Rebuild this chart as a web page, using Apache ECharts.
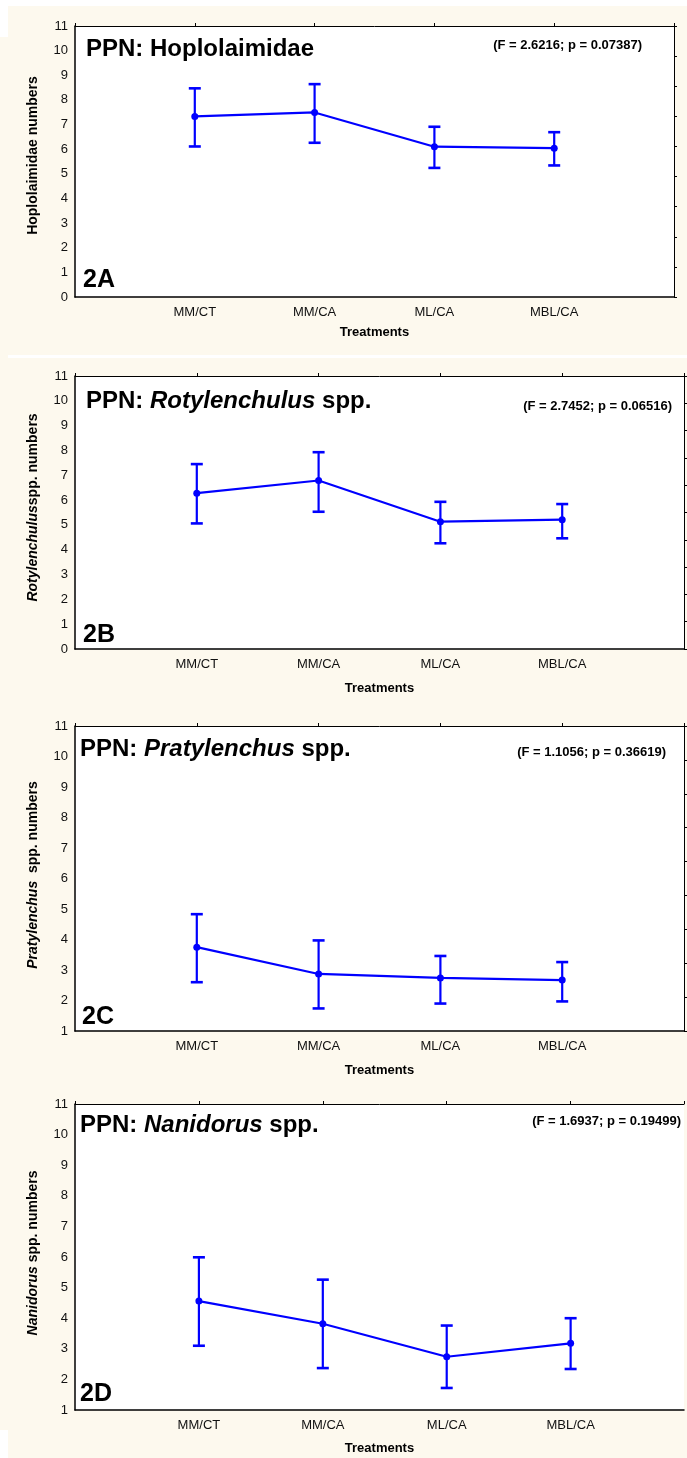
<!DOCTYPE html>
<html><head><meta charset="utf-8">
<script src="https://cdn.jsdelivr.net/npm/echarts@6/dist/echarts.min.js"></script>
<style>html,body{margin:0;padding:0;background:#FDF9EE;} #c{width:687px;height:1458px;}</style>
</head><body><div id="c"></div>
<script>
// ---- data ----
const categories = ['MM/CT', 'MM/CA', 'ML/CA', 'MBL/CA'];

const hoploMean  = [7.33, 7.49, 6.10, 6.04];
const hoploUpper = [8.47, 8.64, 6.91, 6.69];
const hoploLower = [6.11, 6.26, 5.24, 5.34];

const rotyMean  = [6.28, 6.79, 5.13, 5.21];
const rotyUpper = [7.45, 7.93, 5.93, 5.84];
const rotyLower = [5.06, 5.53, 4.26, 4.46];

const pratyMean  = [3.75, 2.87, 2.74, 2.67];
const pratyUpper = [4.83, 3.97, 3.46, 3.26];
const pratyLower = [2.60, 1.74, 1.90, 1.97];

const naniMean  = [4.56, 3.82, 2.74, 3.18];
const naniUpper = [5.99, 5.26, 3.76, 4.00];
const naniLower = [3.10, 2.37, 1.72, 2.34];

const yTicksAB = [0, 11];   // min, max
const yTicksCD = [1, 11];

const statTexts = ['(F = 2.6216; p = 0.07387)', '(F = 2.7452; p = 0.06516)', '(F = 1.1056; p = 0.36619)', '(F = 1.6937; p = 0.19499)'];
const panelTags = ['2A', '2B', '2C', '2D'];

// ---- layout ----
const FONT = '"Liberation Sans", Arial, sans-serif';
const BLUE = '#0000FF';
const panels = [
  {mean: hoploMean, lo: hoploLower, hi: hoploUpper, yr: yTicksAB, rightMax: 9, xMax: 5, rightShow: true,
   grid: {left: 75, top: 26, width: 599, height: 271}, yName: 'Hoplolaimidae numbers', namePad: 12, xNameGap: 29,
   title: '{b|PPN: Hoplolaimidae}', tx: 86, ty: 49, sx: 642, sy: 45, gx: 83, gy: 280},
  {mean: rotyMean, lo: rotyLower, hi: rotyUpper, yr: yTicksAB, rightMax: 10, xMax: 5, rightShow: true,
   grid: {left: 75, top: 376, width: 611, height: 273}, yName: '{i|Rotylenchulus}spp. numbers', namePad: 10, xNameGap: 33,
   title: '{b|PPN: }{bi|Rotylenchulus}{b| spp.}', tx: 86, ty: 401, sx: 672, sy: 406, gx: 83, gy: 635},
  {mean: pratyMean, lo: pratyLower, hi: pratyUpper, yr: yTicksCD, rightMax: 9, xMax: 5, rightShow: true,
   grid: {left: 75, top: 726, width: 611, height: 305}, yName: '{i|Pratylenchus}  spp. numbers', namePad: 7, xNameGap: 33,
   title: '{b|PPN: }{bi|Pratylenchus}{b| spp.}', tx: 80, ty: 749, sx: 666, sy: 752, gx: 82, gy: 1017},
  {mean: naniMean, lo: naniLower, hi: naniUpper, yr: yTicksCD, rightMax: 9, xMax: 4.915, rightShow: false,
   grid: {left: 75, top: 1104, width: 612, height: 306}, yName: '{i|Nanidorus} spp. numbers', namePad: 8, xNameGap: 32,
   title: '{b|PPN: }{bi|Nanidorus}{b| spp.}', tx: 80, ty: 1125, sx: 681, sy: 1121, gx: 80, gy: 1394}
];

function errRender(params, api) {
  const x = api.value(0), lo = api.value(1), hi = api.value(2);
  const a = api.coord([x, lo]), b = api.coord([x, hi]);
  const c = 6;
  const st = {stroke: BLUE, lineWidth: 2.2};
  return {type: 'group', children: [
    {type: 'line', shape: {x1: a[0], y1: a[1], x2: b[0], y2: b[1]}, style: st},
    {type: 'line', shape: {x1: a[0] - c, y1: a[1], x2: a[0] + c, y2: a[1]}, style: {stroke: BLUE, lineWidth: 2.6}},
    {type: 'line', shape: {x1: b[0] - c, y1: b[1], x2: b[0] + c, y2: b[1]}, style: {stroke: BLUE, lineWidth: 2.6}}
  ]};
}

const grid = [], xAxis = [], yAxis = [], series = [], graphic = [];

// white paper strips
graphic.push({type: 'rect', shape: {x: 0, y: 0, width: 687, height: 6}, style: {fill: '#fff'}, z: -10});
graphic.push({type: 'rect', shape: {x: 0, y: 0, width: 8, height: 37}, style: {fill: '#fff'}, z: -10});
graphic.push({type: 'rect', shape: {x: 8, y: 355, width: 679, height: 3}, style: {fill: '#fff'}, z: -10});
graphic.push({type: 'rect', shape: {x: 0, y: 1430, width: 8, height: 28}, style: {fill: '#fff'}, z: -10});

panels.forEach((p, i) => {
  grid.push(Object.assign({show: true, backgroundColor: '#fff', borderWidth: 0}, p.grid));
  xAxis.push({
    gridIndex: i, type: 'value', position: 'bottom', min: 0, max: p.xMax, interval: 1,
    axisLine: {show: true, onZero: false, lineStyle: {color: '#000', width: 1.5}},
    axisTick: {show: false}, splitLine: {show: false},
    axisLabel: {formatter: v => categories[v - 1] || '', color: '#111', fontSize: 13, fontFamily: FONT, margin: 9},
    name: 'Treatments', nameLocation: 'middle', nameGap: p.xNameGap,
    nameTextStyle: {color: '#000', fontSize: 13, fontWeight: 'bold', fontFamily: FONT}
  });
  xAxis.push({
    gridIndex: i, type: 'value', position: 'top', min: 0, max: p.xMax, interval: 1,
    axisLine: {show: true, onZero: false, lineStyle: {color: '#000', width: 1}},
    axisTick: {show: true, inside: false, length: 3, lineStyle: {color: '#000'}},
    axisLabel: {show: false}, splitLine: {show: false}
  });
  yAxis.push({
    gridIndex: i, type: 'value', position: 'left', min: p.yr[0], max: p.yr[1], interval: 1,
    axisLine: {show: true, onZero: false, lineStyle: {color: '#000', width: 1.5}},
    axisTick: {show: false}, splitLine: {show: false},
    axisLabel: {color: '#111', fontSize: 13, fontFamily: FONT, margin: 7},
    name: p.yName, nameLocation: 'middle', nameGap: 35,
    nameTextStyle: {color: '#000', fontSize: 14, fontWeight: 'bold', fontFamily: FONT, padding: [0, 0, 0, p.namePad],
      rich: {i: {fontStyle: 'italic', fontWeight: 'bold', fontSize: 14, fontFamily: FONT, color: '#000'}}}
  });
  yAxis.push({
    gridIndex: i, type: 'value', position: 'right', min: 0, max: p.rightMax, interval: 1, show: p.rightShow,
    axisLine: {show: true, onZero: false, lineStyle: {color: '#000', width: 1}},
    axisTick: {show: true, inside: false, length: 3, lineStyle: {color: '#000'}},
    axisLabel: {show: false}, splitLine: {show: false}
  });
  series.push({
    type: 'custom', xAxisIndex: 2 * i, yAxisIndex: 2 * i, renderItem: errRender,
    encode: {x: 0, y: [1, 2]}, z: 2,
    data: p.lo.map((v, k) => [k + 1, v, p.hi[k]])
  });
  series.push({
    type: 'line', xAxisIndex: 2 * i, yAxisIndex: 2 * i, z: 3,
    symbol: 'circle', symbolSize: 7, showSymbol: true,
    itemStyle: {color: BLUE}, lineStyle: {color: BLUE, width: 2.2},
    data: p.mean.map((v, k) => [k + 1, v])
  });
  graphic.push({type: 'text', x: p.tx, y: p.ty, z: 10, style: {
    text: p.title, verticalAlign: 'middle', align: 'left',
    rich: {b: {fontSize: 24, fontWeight: 'bold', fontFamily: FONT, fill: '#000'},
           bi: {fontSize: 24, fontWeight: 'bold', fontStyle: 'italic', fontFamily: FONT, fill: '#000'}}
  }});
  graphic.push({type: 'text', x: p.sx, y: p.sy, z: 10, style: {
    text: statTexts[i], verticalAlign: 'middle', align: 'right',
    fontSize: 13, fontWeight: 'bold', fontFamily: FONT, fill: '#000'
  }});
  graphic.push({type: 'text', x: p.gx, y: p.gy, z: 10, style: {
    text: panelTags[i], verticalAlign: 'middle', align: 'left',
    fontSize: 25, fontWeight: 'bold', fontFamily: FONT, fill: '#000'
  }});
});

const chart = echarts.init(document.getElementById('c'), null, {renderer: 'canvas'});
chart.setOption({
  backgroundColor: '#FDF9EE', animation: false,
  grid, xAxis, yAxis, series, graphic
});
</script></body></html>
